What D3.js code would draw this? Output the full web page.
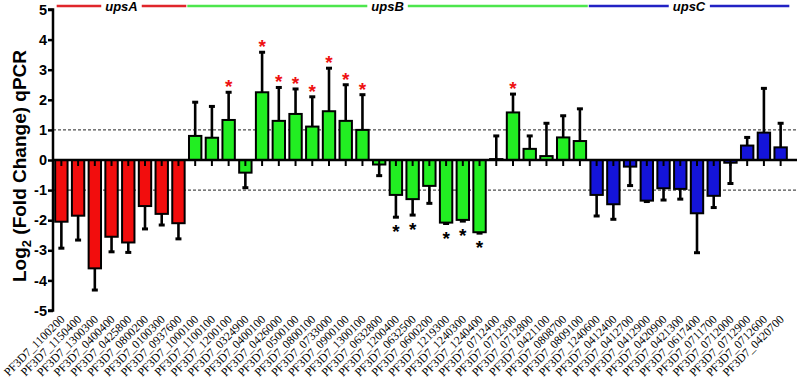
<!DOCTYPE html>
<html><head><meta charset="utf-8">
<script src="https://cdn.jsdelivr.net/npm/d3@7"></script>
<style>body{margin:0;background:#fff}svg{display:block}</style>
</head><body>
<svg id="c" width="797" height="389"></svg>
<script>
const categories = ["PF3D7_1100200","PF3D7_1150400","PF3D7_1300300","PF3D7_0400400","PF3D7_0425800","PF3D7_0800200","PF3D7_0100300","PF3D7_0937600",
"PF3D7_1000100","PF3D7_1100100","PF3D7_1200100","PF3D7_0324900","PF3D7_0400100","PF3D7_0426000","PF3D7_0500100","PF3D7_0800100","PF3D7_0733000","PF3D7_0900100","PF3D7_1300100","PF3D7_0632800","PF3D7_1200400","PF3D7_0632500","PF3D7_0600200","PF3D7_1219300","PF3D7_1240300","PF3D7_1240400","PF3D7_0712400","PF3D7_0712300","PF3D7_0712800","PF3D7_0421100","PF3D7_0808700","PF3D7_0809100",
"PF3D7_1240600","PF3D7_0412400","PF3D7_0412700","PF3D7_0412900","PF3D7_0420900","PF3D7_0421300","PF3D7_0617400","PF3D7_0711700","PF3D7_0712000","PF3D7_0712900","PF3D7_0712600","PF3D7_0420700"];
const values = [-2.05,-1.85,-3.60,-2.55,-2.74,-1.53,-1.79,-2.10,
0.80,0.74,1.33,-0.42,2.25,1.30,1.53,1.11,1.62,1.30,1.00,-0.15,-1.16,-1.30,-0.86,-2.08,-1.99,-2.40,0.03,1.58,0.37,0.13,0.75,0.63,
-1.16,-1.47,-0.22,-1.35,-0.94,-0.96,-1.77,-1.19,-0.09,0.48,0.91,0.42];
const errors = [0.88,0.81,0.72,0.50,0.33,0.76,0.37,0.52,
1.12,1.04,0.92,0.50,1.33,1.11,0.83,0.99,1.43,1.20,1.17,0.37,0.74,0.53,0.58,0.03,0.04,0.03,0.77,0.61,0.43,1.09,0.72,1.07,
0.70,0.50,0.63,0.03,0.39,0.34,1.31,0.39,0.69,0.27,1.47,0.80];
const groupNames = ["upsA","upsB","upsC"];
const groupSizes = [8,24,12];
const groupColors = ["#f20d0d","#22ee22","#1414d9"];
const headerColors = ["#e0262b","#4de64d","#2222c4"];
const sigUp = ["PF3D7_1200100","PF3D7_0400100","PF3D7_0426000","PF3D7_0500100","PF3D7_0800100","PF3D7_0733000","PF3D7_0900100","PF3D7_1300100","PF3D7_0712300"];
const sigDown = ["PF3D7_1200400","PF3D7_0632500","PF3D7_1219300","PF3D7_1240300","PF3D7_1240400"];
const yTicks = [-5,-4,-3,-2,-1,0,1,2,3,4,5];
const refLines = [1,-1];

const groupOf = [];
groupSizes.forEach((n,g)=>{for(let i=0;i<n;i++)groupOf.push(g);});
const data = categories.map((c,i)=>({c, v: values[i], e: errors[i], g: groupOf[i]}));

const svg = d3.select("#c");
const left = 53, right = 789, fullRight = 797;
const x = d3.scaleBand().domain(categories).range([left, right]).paddingInner(0.2).paddingOuter(0.1);
const y = d3.scaleLinear().domain([-5,5]).range([310.5, 9.5]);
const bw = x.bandwidth();
const cx = d => x(d) + bw/2;

// reference dashed lines
svg.selectAll(".ref").data(refLines).join("line")
  .attr("x1", left).attr("x2", fullRight)
  .attr("y1", d=>y(d)).attr("y2", d=>y(d))
  .attr("stroke","#222").attr("stroke-width",1).attr("stroke-dasharray","3,2");

// error bars
const eb = svg.append("g").attr("stroke","#000").attr("stroke-width",2.6);
data.forEach(d=>{
  const end = d.v >= 0 ? d.v + d.e : d.v - d.e;
  eb.append("line").attr("x1",cx(d.c)).attr("x2",cx(d.c)).attr("y1",y(d.v)).attr("y2",y(end));
  eb.append("line").attr("x1",cx(d.c)-3).attr("x2",cx(d.c)+3).attr("y1",y(end)).attr("y2",y(end)).attr("stroke-width",3);
});

// bars
svg.append("g").selectAll("rect").data(data).join("rect")
  .attr("x", d=>x(d.c)+0.5).attr("width", bw-1)
  .attr("y", d=>y(Math.max(0,d.v))).attr("height", d=>Math.abs(y(d.v)-y(0)))
  .attr("fill", d=>groupColors[d.g]).attr("stroke","#000").attr("stroke-width",2);

// zero axis
svg.append("line").attr("x1",left).attr("x2",fullRight).attr("y1",y(0)).attr("y2",y(0))
  .attr("stroke","#000").attr("stroke-width",2.5);
svg.append("g").selectAll("line").data(categories).join("line")
  .attr("x1",d=>cx(d)).attr("x2",d=>cx(d)).attr("y1",y(0)).attr("y2",y(0)+6)
  .attr("stroke","#000").attr("stroke-width",2);

// y axis
const yAxis = d3.axisLeft(y).tickValues(yTicks).tickSize(5).tickFormat(d3.format("d"));
const ya = svg.append("g").attr("transform",`translate(${left},0)`).call(yAxis);
ya.select(".domain").attr("stroke-width",2.5).attr("d",`M-5,${y(5)}H0V${y(-5)}H-5`);
ya.selectAll(".tick line").attr("stroke-width",2.5);
ya.selectAll(".tick text").attr("font-family","Liberation Sans, Arial, sans-serif").attr("font-weight","bold")
  .attr("font-size",14.5).attr("fill","#000").attr("x",-6).text(d=>d<0?"-"+Math.abs(d):d);

// y title
const yt = svg.append("text").attr("transform","translate(26,166) rotate(-90)")
  .attr("text-anchor","middle").attr("font-family","Liberation Sans, Arial, sans-serif")
  .attr("font-weight","bold").attr("font-size",19).attr("fill","#000");
yt.append("tspan").text("Log");
yt.append("tspan").attr("font-size",13).attr("dy",5).text("2");
yt.append("tspan").attr("dy",-5).text(" (Fold Change) qPCR");

// x labels
svg.append("g").selectAll("text").data(categories).join("text")
  .attr("transform", d=>`translate(${cx(d)+4},320) rotate(-45)`)
  .attr("text-anchor","end").attr("font-family","Liberation Serif, Times New Roman, serif")
  .attr("font-size",11.8).attr("fill","#000").text(d=>d);

// significance stars
data.forEach(d=>{
  if (sigUp.includes(d.c)) {
    svg.append("text").attr("x",cx(d.c)).attr("y",y(d.v+d.e)+1).attr("text-anchor","middle")
      .attr("font-family","Liberation Sans, Arial, sans-serif").attr("font-weight","bold").attr("font-size",19)
      .attr("fill","#ee1111").text("*");
  }
  if (sigDown.includes(d.c)) {
    svg.append("text").attr("x",cx(d.c)).attr("y",y(d.v-d.e)+21).attr("text-anchor","middle")
      .attr("font-family","Liberation Sans, Arial, sans-serif").attr("font-weight","bold").attr("font-size",19)
      .attr("fill","#000").text("*");
  }
});

// group headers
let idx = 0;
groupSizes.forEach((n,g)=>{
  const first = categories[idx], last = categories[idx+n-1];
  const x1 = idx===0 ? x(first)+2 : (cx(categories[idx-1])+cx(first))/2 + 0.5;
  const x2 = (idx+n===categories.length) ? x(last)+bw+2 : (cx(last)+cx(categories[idx+n]))/2 - 0.5;
  const hg = svg.append("g");
  hg.append("line").attr("x1",x1).attr("x2",x2).attr("y1",6).attr("y2",6)
    .attr("stroke",headerColors[g]).attr("stroke-width",2.5);
  const tx = g===2 ? 689 : (x1+x2)/2;
  const t = hg.append("text").attr("x",tx).attr("y",11).attr("text-anchor","middle")
    .attr("font-family","Liberation Sans, Arial, sans-serif").attr("font-weight","bold").attr("font-style","italic")
    .attr("font-size",13).attr("fill","#000").text(groupNames[g]);
  const bb = t.node().getBBox();
  hg.insert("rect","text").attr("x",bb.x-4).attr("y",0).attr("width",bb.width+8).attr("height",12).attr("fill","#fff");
  idx += n;
});
</script>
</body></html>
